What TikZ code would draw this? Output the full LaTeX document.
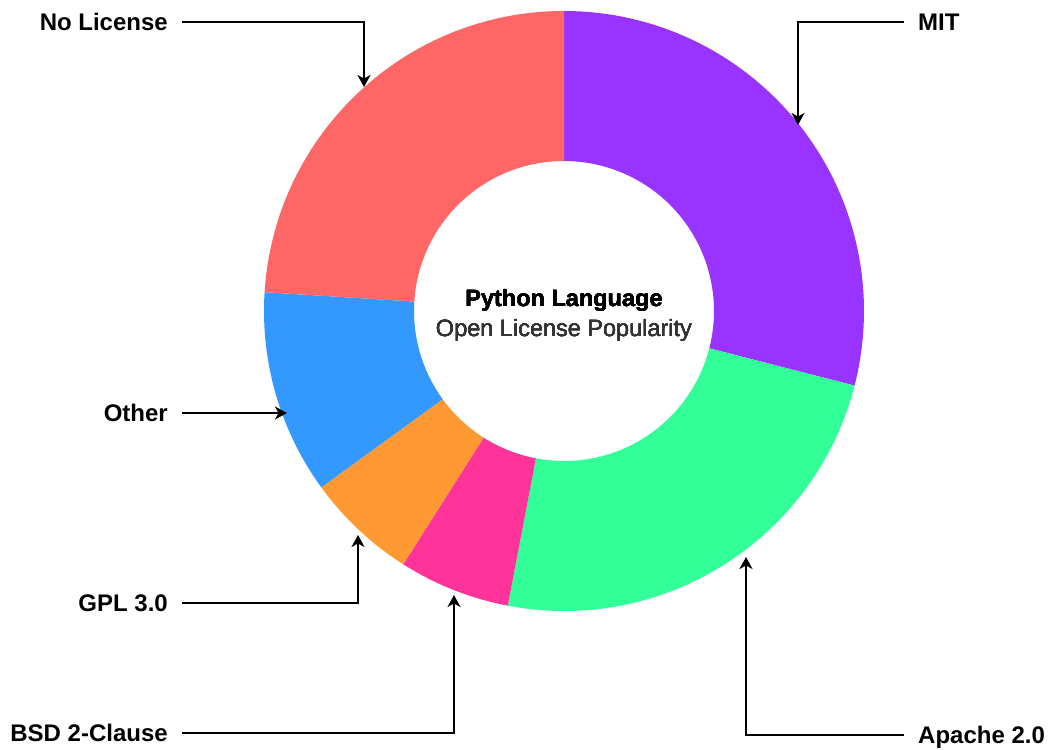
\documentclass[tikz,border=0pt]{standalone}
\usepackage{fontspec}
\setmainfont{Liberation Sans}
\usetikzlibrary{arrows.meta}
\definecolor{mitCol}{HTML}{9933FF}
\definecolor{apacheCol}{HTML}{33FF99}
\definecolor{bsdCol}{HTML}{FF3399}
\definecolor{gplCol}{HTML}{FF9933}
\definecolor{otherCol}{HTML}{3399FF}
\definecolor{noLicCol}{HTML}{FF6666}
\newcommand{\myRingSlice}[3]{
\fill[#3] (#1:300pt) arc[start angle=#1, end angle=#2, radius=300pt]
	-- (#2:150pt) arc[start angle=#2, end angle=#1, radius=150pt] -- cycle;
}

\begin{document}
\begin{tikzpicture}[x=1pt,y=1pt,
		lbl/.style={font=\bfseries\fontsize{24}{28}\selectfont, inner xsep=14pt, inner ysep=0pt,
			text height=16.5pt, text depth=0pt},
		callout/.style={line width=1.8pt, -{Stealth[length=12pt,width=13pt,inset=3.5pt]}}]
			\useasboundingbox (-564,-438) rectangle (487,311);
			%% ring
			\foreach \a/\b/\c in {90/-14.4/mitCol, -14.4/-100.8/apacheCol, -100.8/-122.4/bsdCol,
				-122.4/-144/gplCol, -144/-183.6/otherCol, 176.4/90/noLicCol}
				\myRingSlice{\a}{\b}{\c}
			\node[align=center, font=\fontsize{23.5}{30}\selectfont] (title) at (0,-4)
				{\textbf{Python Language}\\\textcolor[HTML]{333333}{Open License Popularity}};
			%% tips on the ring
			\coordinate (tipNoLic) at (-200,224);
			\coordinate (tipMit) at (234,186);
			\coordinate (tipOther) at (-277,-102);
			\coordinate (tipGpl) at (-206,-224);
			\coordinate (tipBsd) at (-110,-284);
			\coordinate (tipApache) at (182,-246);
			%% labels
			\node[lbl, anchor=east] (noLic) at (-382,289) {No License};
			\node[lbl, anchor=west] (mit) at (340,289) {MIT};
			\node[lbl, anchor=east] (other) at (-382,-102) {Other};
			\node[lbl, anchor=east] (gpl) at (-382,-292) {GPL 3.0};
			\node[lbl, anchor=east] (bsd) at (-382,-422) {BSD 2-Clause};
			\node[lbl, anchor=west] (apache) at (340,-424) {Apache 2.0};
			\draw[callout] (noLic.east) -| (tipNoLic);
			\draw[callout] (mit.west) -| (tipMit);
			\draw[callout] (other.east) -- (tipOther);
			\draw[callout] (gpl.east) -| (tipGpl);
			\draw[callout] (bsd.east) -| (tipBsd);
			\draw[callout] (apache.west) -| (tipApache);
\end{tikzpicture}
\end{document}
